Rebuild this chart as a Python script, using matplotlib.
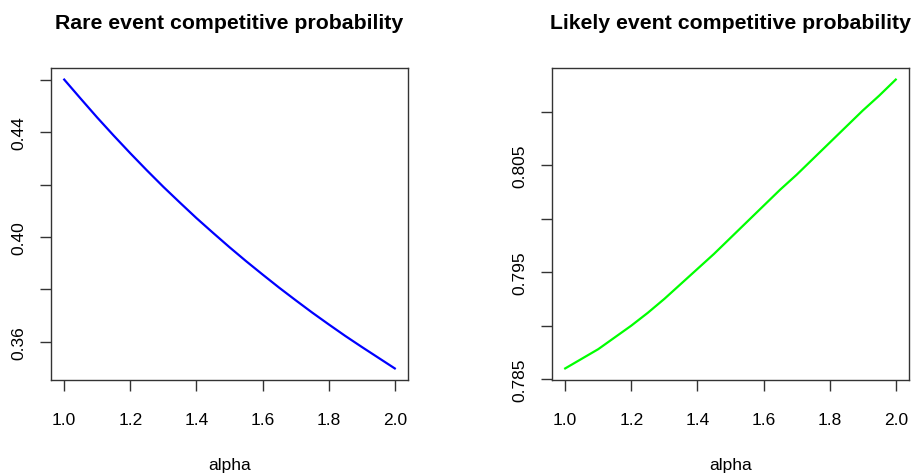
import numpy as np
import matplotlib
matplotlib.use('Agg')
import matplotlib.pyplot as plt

# ===数据
alpha = [1.00, 1.05, 1.10, 1.15, 1.20, 1.25, 1.30, 1.35, 1.40, 1.45, 1.50,
         1.55, 1.60, 1.65, 1.70, 1.75, 1.80, 1.85, 1.90, 1.95, 2.00]
rare_prob = [0.4600, 0.4527, 0.4455, 0.4386, 0.4319, 0.4254, 0.4191, 0.4131, 0.4072, 0.4016, 0.3961,
             0.3908, 0.3857, 0.3807, 0.3759, 0.3712, 0.3667, 0.3623, 0.3581, 0.3540, 0.3499]
likely_prob = [0.7860, 0.7869, 0.7878, 0.7889, 0.7900, 0.7912, 0.7925, 0.7939, 0.7953, 0.7967, 0.7982,
               0.7997, 0.8012, 0.8027, 0.8041, 0.8056, 0.8071, 0.8086, 0.8101, 0.8115, 0.8130]

x_ticks = [1.0, 1.2, 1.4, 1.6, 1.8, 2.0]
rare_ticks = [0.36, 0.38, 0.40, 0.42, 0.44, 0.46]
rare_labels = ['0.36', '', '0.40', '', '0.44', '']
likely_ticks = [0.785, 0.790, 0.795, 0.800, 0.805, 0.810]
likely_labels = ['0.785', '', '0.795', '', '0.805', '']

plt.rcParams['font.family'] = ['Liberation Sans', 'DejaVu Sans']
axis_color = '#333333'


def r_range(values):
    # 仿照R的坐标范围，两端各留4%
    lo, hi = min(values), max(values)
    pad = (hi - lo) * 0.04
    return lo - pad, hi + pad


def draw_panel(ax, x, y, color, title, yticks, ylabels):
    ax.plot(x, y, color=color, lw=1.6)
    ax.set_xlim(r_range(x))
    ax.set_ylim(r_range(y))
    ax.set_xticks(x_ticks)
    ax.set_xticklabels(['%.1f' % t for t in x_ticks])
    ax.set_yticks(yticks)
    ax.set_yticklabels(ylabels, rotation=90, va='center')
    ax.tick_params(axis='both', direction='out', length=8, width=1, colors=axis_color,
                   labelcolor='black', labelsize=12.5)
    ax.tick_params(axis='x', pad=15)
    ax.tick_params(axis='y', pad=10)
    for s in ax.spines.values():
        s.set_color(axis_color)
        s.set_linewidth(1)
    ax.set_title(title, fontsize=15.3, fontweight='bold', pad=29)
    ax.set_xlabel('alpha', fontsize=12.5, labelpad=22)


fig = plt.figure(figsize=(9.14, 4.77), dpi=100)
ax1 = fig.add_axes([0.0558, 0.2013, 0.3906, 0.654])
ax2 = fig.add_axes([0.6039, 0.2013, 0.3906, 0.654])

draw_panel(ax1, alpha, rare_prob, '#0000FF', 'Rare event competitive probability', rare_ticks, rare_labels)
draw_panel(ax2, alpha, likely_prob, '#00FF00', 'Likely event competitive probability', likely_ticks, likely_labels)

fig.savefig('out.png', dpi=100)
